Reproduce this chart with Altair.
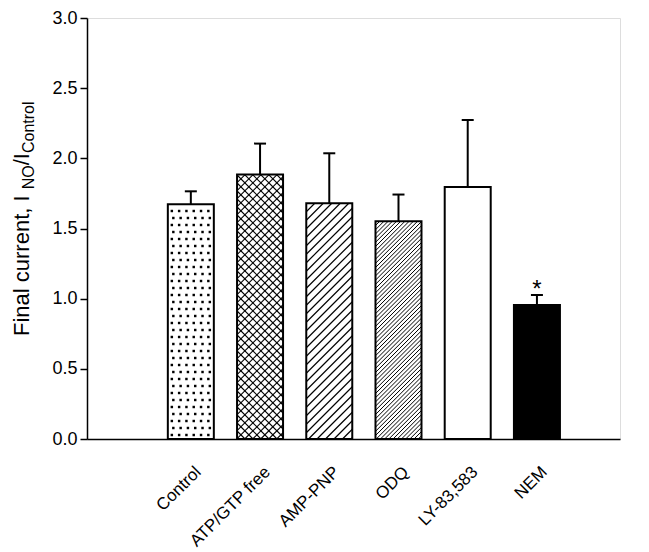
import altair as alt
import pandas as pd

# ---- data ----
categories = ["Control", "ATP/GTP free", "AMP-PNP", "ODQ", "LY-83,583", "NEM"]
means = [1.673, 1.884, 1.680, 1.551, 1.796, 0.954]
errors = [0.092, 0.221, 0.356, 0.191, 0.477, 0.072]
patterns = ["dots", "cross", "diag", "diag_dense", "none", "solid"]
marks_sig = ["", "", "", "", "", "*"]
y_ticks = [0.0, 0.5, 1.0, 1.5, 2.0, 2.5, 3.0]

# ---- layout ----
W, H = 533, 421
XMIN, XMAX = -0.5, 7.2
YMAX = 3.0
sx = W / (XMAX - XMIN)
sy = H / YMAX
half = 23 / sx
cap = 6 / sx
FONT = "Liberation Sans"

positions = [i + 1 for i in range(len(categories))]

bars = pd.DataFrame({
    "x": [p - half for p in positions],
    "x2": [p + half for p in positions],
    "y": [0.0] * len(means),
    "y2": means,
    "fill": ["black" if p == "solid" else "white" for p in patterns],
})
errs = pd.DataFrame({
    "x": positions,
    "y": means,
    "y2": [m + e for m, e in zip(means, errors)],
    "xa": [p - cap for p in positions],
    "xb": [p + cap for p in positions],
    "sig": marks_sig,
    "ys": [m + e + 0.015 for m, e in zip(means, errors)],
})


def hatch(pos, top, step, direction):
    x0 = pos - half
    w = 2 * half * sx
    h = top * sy
    segs = []
    if direction > 0:
        c = -h
        while c < w:
            xa, xb = max(0.0, c), min(w, h + c)
            if xb > xa:
                segs.append((x0 + xa / sx, (xa - c) / sy, x0 + xb / sx, (xb - c) / sy))
            c += step
    else:
        c = 0.0
        while c < w + h:
            xa, xb = max(0.0, c - h), min(w, c)
            if xb > xa:
                segs.append((x0 + xa / sx, (c - xa) / sy, x0 + xb / sx, (c - xb) / sy))
            c += step
    return segs


hatch_rows = []
dot_rows = []
for pos, top, pat in zip(positions, means, patterns):
    if pat == "cross":
        for s in hatch(pos, top, 8.0, 1) + hatch(pos, top, 8.0, -1):
            hatch_rows.append(s + (1.1,))
    elif pat == "diag":
        for s in hatch(pos, top, 8.5, 1):
            hatch_rows.append(s + (1.2,))
    elif pat == "diag_dense":
        for s in hatch(pos, top, 4.2, 1):
            hatch_rows.append(s + (1.0,))
    elif pat == "dots":
        x0 = pos - half
        r = 0
        yy = 4.0
        while yy < top * sy - 3:
            xx = 4.0 + (1.5 if r % 2 else 0.0)
            while xx < 2 * half * sx - 2:
                dot_rows.append((x0 + xx / sx, yy / sy))
                xx += 7.3
            yy += 7.0
            r += 1

hatch_df = pd.DataFrame(hatch_rows, columns=["x", "y", "x2", "y2", "sw"])
dot_df = pd.DataFrame(dot_rows, columns=["x", "y"])

xscale = alt.Scale(domain=[XMIN, XMAX], nice=False, zero=False)
yscale = alt.Scale(domain=[0, YMAX], nice=False)

label_arr = "[" + ",".join("'" + c + "'" for c in categories) + "]"
xaxis = alt.Axis(
    values=positions, title=None, grid=False, ticks=False,
    labelExpr=label_arr + "[datum.value - 1]",
    labelAngle=-45, labelAlign="right", labelBaseline="middle",
    labelPadding=30, labelOffset=7, labelFontSize=17, labelFont=FONT, labelColor="black",
    labelOverlap=False, labelBound=False, labelFlush=False,
    domainColor="black", domainWidth=1.5,
)
yaxis = alt.Axis(
    values=y_ticks, format=".1f", title=None, grid=False,
    tickSize=7, tickColor="black", tickWidth=1.5,
    domainColor="black", domainWidth=1.5,
    labelFontSize=18, labelFont=FONT, labelColor="black", labelPadding=3,
)

X = lambda: alt.X("x:Q", scale=xscale, axis=xaxis)
Y = lambda: alt.Y("y:Q", scale=yscale, axis=yaxis)

fill_layer = alt.Chart(bars).mark_rect(strokeWidth=0).encode(
    x=X(), x2="x2:Q", y=Y(), y2="y2:Q",
    fill=alt.Fill("fill:N", scale=None),
)
hatch_layer = alt.Chart(hatch_df).mark_rule(color="black").encode(
    x=X(), x2="x2:Q", y=Y(), y2="y2:Q",
    strokeWidth=alt.StrokeWidth("sw:Q", scale=None),
)
dot_layer = alt.Chart(dot_df).mark_square(size=6, color="black", opacity=1).encode(
    x=X(), y=Y(),
)
outline_layer = alt.Chart(bars).mark_rect(fillOpacity=0, stroke="black", strokeWidth=2).encode(
    x=X(), x2="x2:Q", y=Y(), y2="y2:Q",
)
err_layer = alt.Chart(errs).mark_rule(color="black", strokeWidth=2).encode(
    x=X(), y=Y(), y2="y2:Q",
)
cap_layer = alt.Chart(errs).mark_rule(color="black", strokeWidth=2).encode(
    x=alt.X("xa:Q", scale=xscale, axis=xaxis), x2="xb:Q",
    y=alt.Y("y2:Q", scale=yscale, axis=yaxis),
)
sig_layer = alt.Chart(errs).mark_text(
    fontSize=24, font=FONT, color="black", baseline="alphabetic", align="center", dy=4
).encode(
    x=X(), y=alt.Y("ys:Q", scale=yscale, axis=yaxis), text="sig:N",
)

# y-axis title with subscripts: "Final current,  I_NO/I_Control"
title_pieces = [
    ("Final current,  I", 22, 0),
    ("NO", 16, 5),
    ("/I", 22, 0),
    ("Control", 16, 5),
]
widths = {"F": .611, "i": .222, "n": .556, "a": .556, "l": .222, " ": .278, "c": .5,
          "u": .556, "r": .333, "e": .556, "t": .278, ",": .278, "I": .278, "N": .722,
          "O": .778, "/": .278, "C": .722, "o": .556}
title_layers = []
ypos = 318.0
for txt, fs, shift in title_pieces:
    title_layers.append(
        alt.Chart(pd.DataFrame({"t": [txt]})).mark_text(
            angle=270, align="left", baseline="alphabetic", fontSize=fs, font=FONT, color="black"
        ).encode(x=alt.value(-58 + shift), y=alt.value(ypos), text="t:N")
    )
    ypos -= sum(widths[ch] for ch in txt) * fs

chart = alt.layer(
    fill_layer, hatch_layer, dot_layer, outline_layer, err_layer, cap_layer, sig_layer,
    *title_layers,
).properties(
    width=W, height=H,
    autosize=alt.AutoSizeParams(type="none"),
    padding={"left": 79, "top": 10, "right": 20, "bottom": 113},
).configure_view(stroke=None).configure(background="white")

chart.save("out.html", embed_options={"renderer": "svg", "actions": False})
